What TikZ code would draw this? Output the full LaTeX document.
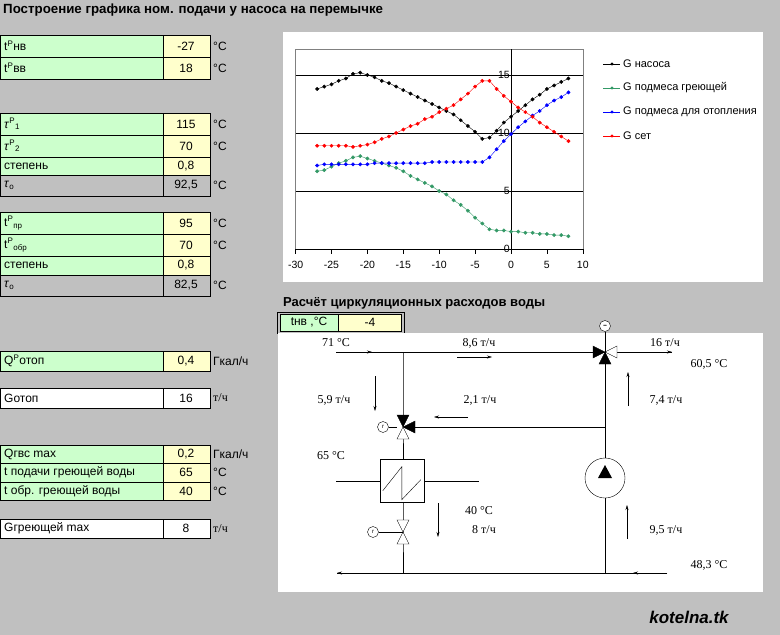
\documentclass[tikz,border=0pt]{standalone}
\usepackage{fontspec}
\setmainfont{Liberation Sans}
\newfontfamily\serifx{Liberation Serif}
\definecolor{bg}{HTML}{C0C0C0}
\definecolor{cg}{HTML}{CCFFCC}
\definecolor{cy}{HTML}{FFFFCC}
\definecolor{gg}{HTML}{339966}
\newcommand\srow[7]{%
  \draw[fill=#6] (0,#1) rectangle (163,#2);
  \draw[fill=#7] (163,#1) rectangle (210,#2);
  \node[anchor=west,inner sep=0] at (4,{(#1+#2)/2}) {#3};
  \node[inner sep=0] at (186,{(#1+#2)/2}) {#4};
  \node[anchor=west,inner sep=0] at (213,{(#1+#2)/2}) {#5};}
\begin{document}
\begin{tikzpicture}[x=1pt,y=-1pt,font=\fontsize{12}{14}\selectfont,
  lbl/.style={font=\serifx\fontsize{12}{14}\selectfont,inner sep=0},
  flow/.style={-{Stealth[length=5pt,width=3pt]}},
  full/.style={fill=black,draw=black},
  open/.style={fill=white,draw=black}]
\usetikzlibrary{arrows.meta}
\fill[bg] (0,0) rectangle (780,635);
\useasboundingbox (0,0) rectangle (780,635);
\node[anchor=west,font=\bfseries\fontsize{13.3}{15}\selectfont,inner sep=0] (title) at (3,10) {Построение графика ном. подачи у насоса на перемычке};
% left tables
\srow{35}{57}{t\textsuperscript{Р}нв}{-27}{°C}{cg}{cy}
\srow{57}{79}{t\textsuperscript{Р}вв}{18}{°C}{cg}{cy}
\srow{113}{135}{\textit{τ}\textsuperscript{Р}\textsubscript{1}}{115}{°C}{cg}{cy}
\srow{135}{157}{\textit{τ}\textsuperscript{Р}\textsubscript{2}}{70}{°C}{cg}{cy}
\srow{157}{175}{степень}{0,8}{}{cg}{cy}
\srow{175}{196}{\textit{τ}\textsubscript{o}}{92,5}{°C}{bg}{bg}
\srow{212}{234}{t\textsuperscript{Р}\textsubscript{пр}}{95}{°C}{cg}{cy}
\srow{234}{256}{t\textsuperscript{Р}\textsubscript{обр}}{70}{°C}{cg}{cy}
\srow{256}{275}{степень}{0,8}{}{cg}{cy}
\srow{275}{296}{\textit{τ}\textsubscript{o}}{82,5}{°C}{bg}{bg}
\srow{351}{371}{Q\textsuperscript{Р}отоп}{0,4}{Гкал/ч}{cg}{cy}
\srow{388}{408}{Gотоп}{16}{{\serifx т/ч}}{white}{white}
\srow{445}{463}{Qгвс max}{0,2}{Гкал/ч}{cg}{cy}
\srow{463}{482}{t подачи греющей воды}{65}{°C}{cg}{cy}
\srow{482}{500}{t обр. греющей воды}{40}{°C}{cg}{cy}
\srow{519}{538}{Gгреющей max}{8}{{\serifx т/ч}}{white}{white}
% chart
\fill[white] (283,32) rectangle (763,282);
\begin{scope}[shift={(511,249)},x=7.18pt,y=11.6pt]
  \draw[gray] (-30,0) rectangle (10,17.2);
  \foreach \v in {5,10,15} \draw[black] (-30,\v) -- (10,\v);
  \draw[black] (0,0) -- (0,17.2);
  \draw[black] (-30,0) -- (10,0);
  \foreach \t in {-30,-25,...,10} {\draw (\t,0) -- (\t,-0.4);
    \node[inner sep=0,font=\fontsize{10.5}{12}\selectfont] at (\t,-1.4) {\t};}
  \foreach \v in {0,5,10,15} \node[anchor=east,inner sep=1pt,font=\fontsize{10.5}{12}\selectfont] at (0,\v) {\v};
  \tikzset{mk/.style={mark=*,mark size=1.7pt}}
  \draw[black] plot[mk] coordinates {(-27,13.8)(-26,14.0)(-25,14.2)(-24,14.5)(-23,14.7)(-22,15.1)(-21,15.2)(-20,15.0)(-19,14.8)(-18,14.5)(-17,14.3)(-16,14.0)(-15,13.7)(-14,13.4)(-13,13.1)(-12,12.8)(-11,12.5)(-10,12.2)(-9,11.9)(-8,11.6)(-7,11.1)(-6,10.6)(-5,10.1)(-4,9.5)(-3,9.6)(-2,10.2)(-1,10.9)(0,11.4)(1,11.9)(2,12.4)(3,12.9)(4,13.3)(5,13.8)(6,14.1)(7,14.4)(8,14.7)};
  \draw[gg] plot[mk] coordinates {(-27,6.7)(-26,6.8)(-25,7.1)(-24,7.4)(-23,7.6)(-22,7.9)(-21,8.0)(-20,7.8)(-19,7.6)(-18,7.4)(-17,7.2)(-16,7.0)(-15,6.7)(-14,6.3)(-13,6.0)(-12,5.7)(-11,5.4)(-10,5.0)(-9,4.7)(-8,4.2)(-7,3.8)(-6,3.3)(-5,2.7)(-4,2.2)(-3,1.7)(-2,1.6)(-1,1.6)(0,1.5)(1,1.5)(2,1.4)(3,1.4)(4,1.3)(5,1.3)(6,1.2)(7,1.2)(8,1.1)};
  \draw[blue] plot[mk] coordinates {(-27,7.2)(-26,7.3)(-25,7.3)(-24,7.3)(-23,7.3)(-22,7.3)(-21,7.3)(-20,7.3)(-19,7.4)(-18,7.4)(-17,7.4)(-16,7.4)(-15,7.4)(-14,7.4)(-13,7.4)(-12,7.4)(-11,7.5)(-10,7.5)(-9,7.5)(-8,7.5)(-7,7.5)(-6,7.5)(-5,7.5)(-4,7.5)(-3,7.9)(-2,8.6)(-1,9.3)(0,9.9)(1,10.5)(2,11.0)(3,11.5)(4,11.9)(5,12.4)(6,12.8)(7,13.1)(8,13.5)};
  \draw[red] plot[mk] coordinates {(-27,8.9)(-26,8.9)(-25,8.9)(-24,8.9)(-23,8.9)(-22,8.8)(-21,8.9)(-20,9.0)(-19,9.2)(-18,9.5)(-17,9.7)(-16,10.0)(-15,10.3)(-14,10.6)(-13,10.8)(-12,11.2)(-11,11.4)(-10,11.8)(-9,12.1)(-8,12.4)(-7,12.9)(-6,13.4)(-5,14.0)(-4,14.5)(-3,14.5)(-2,13.8)(-1,13.2)(0,12.7)(1,12.2)(2,11.8)(3,11.4)(4,10.9)(5,10.5)(6,10.1)(7,9.7)(8,9.3)};
\end{scope}
\foreach \c/\n/\y in {black/G насоса/64, gg/G подмеса греющей/88, blue/G подмеса для отопления/112, red/G сет/136}{
  \draw[\c] (603,\y) -- (620,\y);
  \fill[\c] (612,\y) circle (1.7pt);
  \node[anchor=west,inner sep=0,font=\fontsize{11}{13}\selectfont] at (623,\y) {\n};}
% section 2
\node[anchor=west,font=\bfseries\fontsize{13}{15}\selectfont,inner sep=0] (t2) at (283,303) {Расчёт циркуляционных расходов воды};
\draw (277,312) rectangle (404,333);
\draw[fill=cg] (280,314) rectangle (338,331);
\draw[fill=cy] (338,314) rectangle (401,331);
\node[inner sep=0] at (309,322) {tнв ,°C};
\node[inner sep=0] at (370,322) {-4};
\fill[white] (278,333) rectangle (763,592);
% schematic
\coordinate (in) at (336,352); \coordinate (j1) at (403,352); \coordinate (v2) at (605,352); \coordinate (out) at (672,352);
\coordinate (v1) at (403,427); \coordinate (j2) at (605,427);
\coordinate (hx) at (402,481); \coordinate (v3) at (403,532);
\coordinate (b1) at (403,573); \coordinate (b2) at (605,573);
\coordinate (bin) at (667,573); \coordinate (bout) at (337,573);
\node[circle,draw,fill=white,minimum size=40pt,inner sep=0] (pump) at (605,478) {};
\draw (in) -- (v2) (v2) -- (out);
\draw[-{Stealth[length=5pt,width=3pt]}] (in) -- (372,352);
\draw[-{Stealth[length=5pt,width=3pt]}] (v2) ++(40,0) -- (out);
\draw (j1) -- (v1) -- (403,460);
\draw (v2) -- (pump.north) (pump.south) -- (b2);
\draw (j2) -- (v1);
\draw (403,503) -- (v3) -- (b1);
\draw (bin) -- (bout);
\draw[-{Stealth[length=5pt,width=3pt]}] (bin) -- (633,573);
\draw[-{Stealth[length=5pt,width=3pt]}] (b1) -- (bout);
% heat exchanger
\node[draw,fill=white,minimum width=44pt,minimum height=43pt,inner sep=0] (hxb) at (hx) {};
\draw (336,481) -- (hxb.west) (hxb.east) -- (479,481);
\draw (hxb.south west) ++(3,-12) -- ++(19,-24) -- ++(0,33) -- ++(19,-20);
% pump triangle
\fill (605,465) -- (598,478) -- (612,478) -- cycle;
% valve 1 (three-way, left)
\filldraw[full] (v1) -- (397,415) -- (409,415) -- cycle;
\filldraw[full] (v1) -- (415,421) -- (415,433) -- cycle;
\filldraw[open] (v1) -- (397,439) -- (409,439) -- cycle;
\node[circle,draw,fill=white,minimum size=11pt,inner sep=0,font=\fontsize{6}{6}\selectfont] (g1) at (383,427) {r};
\draw (g1) -- (397,427);
% valve 2 (top)
\filldraw[full] (v2) -- (593,346) -- (593,358) -- cycle;
\filldraw[open] (v2) -- (617,346) -- (617,358) -- cycle;
\filldraw[full] (v2) -- (599,364) -- (611,364) -- cycle;
\node[circle,draw,fill=white,minimum size=11pt,inner sep=0,font=\fontsize{5}{5}\selectfont] (g2) at (605,326) {\textbullet\textbullet};
\draw (g2) -- (v2);
% valve 3
\filldraw[open] (v3) -- (397,520) -- (409,520) -- cycle;
\filldraw[open] (v3) -- (397,544) -- (409,544) -- cycle;
\node[circle,draw,fill=white,minimum size=11pt,inner sep=0,font=\fontsize{6}{6}\selectfont] (g3) at (373,532) {r};
\draw (g3) -- (v3);
% flow arrows
\draw[flow] (457,357) -- (492,357);
\draw[flow] (375,376) -- (375,411);
\draw[flow] (468,417) -- (434,417);
\draw[flow] (628,406) -- (628,372);
\draw[flow] (438,503) -- (438,537);
\draw[flow] (627,539) -- (627,505);
% labels
\node[lbl] at (336,343) {71 °C};
\node[lbl] at (479,343) {8,6 т/ч};
\node[lbl] at (665,343) {16 т/ч};
\node[lbl] at (709,364) {60,5 °C};
\node[lbl] at (334,400) {5,9 т/ч};
\node[lbl] at (480,400) {2,1 т/ч};
\node[lbl] at (666,400) {7,4 т/ч};
\node[lbl] at (331,456) {65 °C};
\node[lbl] at (479,511) {40 °C};
\node[lbl] at (484,530) {8 т/ч};
\node[lbl] at (666,530) {9,5 т/ч};
\node[lbl] at (709,565) {48,3 °C};
\node[font=\bfseries\itshape\fontsize{17}{20}\selectfont,inner sep=0] (brand) at (689,617) {kotelna.tk};
\end{tikzpicture}
\end{document}
